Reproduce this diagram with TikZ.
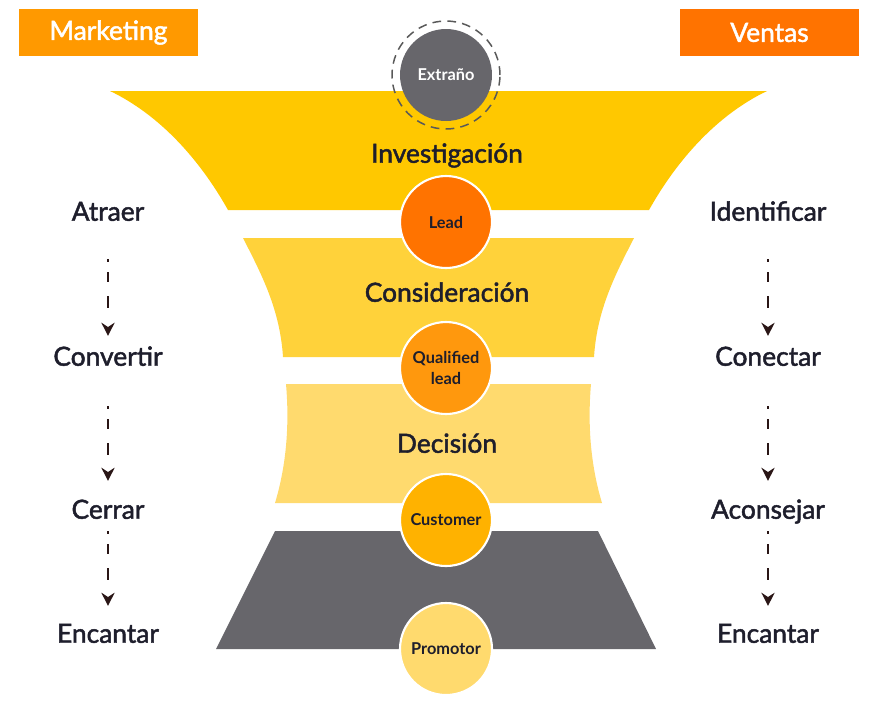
\documentclass[tikz,border=0pt]{standalone}
\usepackage{fontspec}
\setmainfont{Lato}
\newfontfamily\latosemi[FakeBold=1.8]{Lato}
\usetikzlibrary{arrows.meta}

\definecolor{tagmkt}{HTML}{FF9900}
\definecolor{tagvta}{HTML}{FF7300}
\definecolor{bandA}{HTML}{FFC800}
\definecolor{bandB}{HTML}{FFD23A}
\definecolor{bandC}{HTML}{FFDA6E}
\definecolor{bandD}{HTML}{67666B}
\definecolor{ink}{HTML}{1E1E2C}
\definecolor{arrowink}{HTML}{2A1616}

\begin{document}
\begin{tikzpicture}[x=0.02cm, y=-0.02cm,
  tag/.style={minimum width=3.58cm, minimum height=0.94cm, inner sep=0pt,
    text=white, font=\latosemi\fontsize{15}{18}\selectfont},
  side/.style={inner sep=0pt, text height=0.88em, text depth=0pt, text=ink,
    font=\latosemi\fontsize{15}{18}\selectfont},
  phase/.style={side, font=\latosemi\fontsize{15}{18}\selectfont},
  stage/.style={circle, draw=white, line width=1.2pt, minimum size=1.84cm,
    inner sep=0pt, align=center, text=ink, font=\bfseries\fontsize{9.3}{11.5}\selectfont},
  flow/.style={arrowink, line width=1.1pt,
    dash pattern=on 1.7pt off 5.7pt on 5.7pt off 8pt on 7pt off 20pt,
    -{Stealth[length=7.5pt, width=7.5pt]}}]
\useasboundingbox (0,0) rectangle (878,708);

% funnel bands
\fill[bandA] (110,91) -- (767,91) .. controls (717,115) and (677,160) .. (649,210)
  -- (228,210) .. controls (200,160) and (160,115) .. cycle;
\fill[bandB] (243,238) -- (634,238) .. controls (615,275) and (597,310) .. (594,357)
  -- (283,357) .. controls (280,310) and (262,275) .. cycle;
\fill[bandC] (286,384) -- (591,384) .. controls (587,430) and (592,470) .. (602,503)
  -- (275,503) .. controls (285,470) and (290,430) .. cycle;
\fill[bandD] (275,531) -- (598,531) -- (656,649) -- (216,649) -- cycle;

% headers
\node[tag, fill=tagmkt] (mkt) at (108.5,32.5) {Marketing};
\node[tag, fill=tagvta] (vta) at (769.5,32.5) {Ventas};

% stages
\node[stage, draw=none, fill=bandD, text=white] (extrano) at (446,75) {Extraño};
\draw[black!65, line width=0.85pt, dash pattern=on 5pt off 3.5pt]
  (extrano.center) circle[radius=1.08cm];
\node[stage, fill=tagvta] (lead) at (446,222) {Lead};
\node[stage, fill=orange!85!yellow!95!white] (qlead) at (446,368) {Qualified\\lead};
\node[stage, fill=orange!30!bandA] (customer) at (446,520) {Customer};
\node[stage, fill=bandC] (promotor) at (446,649) {Promotor};

\node[phase] (invest) at (447,155) {Investigación};
\node[phase] (consid) at (447,294) {Consideración};
\node[phase] (decis) at (447,445) {Decisión};

% marketing side
\node[side] (atraer) at (108,213) {Atraer};
\node[side] (convertir) at (108,358) {Convertir};
\node[side] (cerrar) at (108,511) {Cerrar};
\node[side] (encantarM) at (108,635) {Encantar};
\draw[flow, shorten <=0.76cm, shorten >=0.28cm] (atraer) -- (convertir);
\draw[flow, shorten <=0.80cm, shorten >=0.44cm] (convertir) -- (cerrar);
\draw[flow, shorten <=0.24cm, shorten >=0.42cm] (cerrar) -- (encantarM);

% ventas side
\node[side] (identificar) at (768,213) {Identificar};
\node[side] (conectar) at (768,358) {Conectar};
\node[side] (aconsejar) at (768,511) {Aconsejar};
\node[side] (encantarV) at (768,635) {Encantar};
\draw[flow, shorten <=0.76cm, shorten >=0.28cm] (identificar) -- (conectar);
\draw[flow, shorten <=0.80cm, shorten >=0.44cm] (conectar) -- (aconsejar);
\draw[flow, shorten <=0.24cm, shorten >=0.42cm] (aconsejar) -- (encantarV);
\end{tikzpicture}
\end{document}
